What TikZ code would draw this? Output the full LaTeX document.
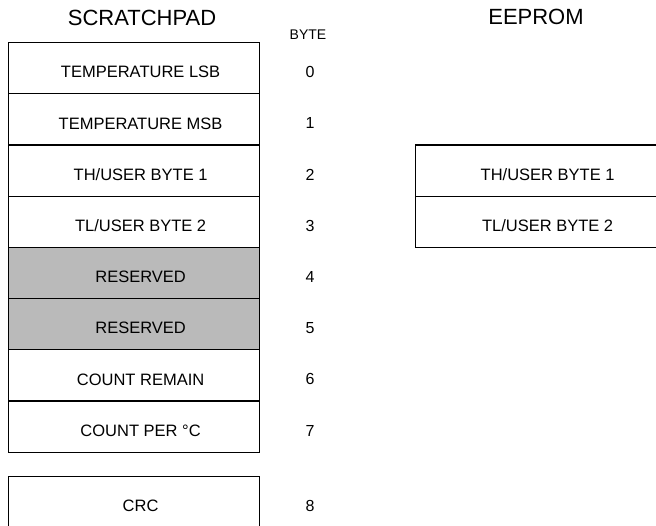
\documentclass[tikz,border=0pt]{standalone}
\usepackage{fontspec}
\setmainfont{Liberation Sans}
\begin{document}
\begin{tikzpicture}[x=1pt,y=-1pt,
  cell/.style={draw, line width=1.2pt, minimum width=251pt, minimum height=51.2pt, inner sep=0pt, anchor=north west},
  shaded/.style={cell, fill=black!27},
  celltext/.style={font=\fontsize{16.5}{19}\selectfont, inner sep=0pt},
  num/.style={font=\fontsize{16}{19}\selectfont, inner sep=0pt},
  header/.style={font=\fontsize{22}{25}\selectfont, inner sep=0pt}]
\useasboundingbox (0,0) rectangle (656,526);
\clip (0,0) rectangle (656,526);
% headers
\node[header] (hsp) at (142,18) {SCRATCHPAD};
\node[header] (hee) at (536,17) {EEPROM};
\node[font=\fontsize{14}{16}\selectfont, inner sep=0pt] (hbyte) at (308,35) {BYTE};
% scratchpad cells
\node[cell]   (c0) at (8,42)    {};
\node[cell]   (c1) at (8,93.2)  {};
\node[cell]   (c2) at (8,144.4) {};
\node[cell]   (c3) at (8,195.6) {};
\node[shaded] (c4) at (8,246.8) {};
\node[shaded] (c5) at (8,298)   {};
\node[cell]   (c6) at (8,349.2) {};
\node[cell]   (c7) at (8,400.4) {};
\node[cell]   (c8) at (8,476)   {};
% eeprom cells
\node[cell] (e1) at (415,144.4) {};
\node[cell] (e2) at (415,195.6) {};
% cell texts
\foreach \c/\t in {c0/{TEMPERATURE LSB}, c1/{TEMPERATURE MSB}, c2/{TH/USER BYTE 1}, c3/{TL/USER BYTE 2}, c4/{RESERVED}, c5/{RESERVED}, c6/{COUNT REMAIN}, c7/{COUNT PER \textdegree C}, c8/{CRC}, e1/{TH/USER BYTE 1}, e2/{TL/USER BYTE 2}}
  \node[celltext] (t\c) at ([xshift=6.5pt,yshift=-4pt]\c.center) {\t};
% byte numbers
\foreach \c/\n in {c0/0, c1/1, c2/2, c3/3, c4/4, c5/5, c6/6, c7/7}
  \node[num] (n\c) at ([yshift=-4pt]310,0 |- \c.center) {\n};
\node[num] (nc8) at (310,506) {8};
\end{tikzpicture}
\end{document}
